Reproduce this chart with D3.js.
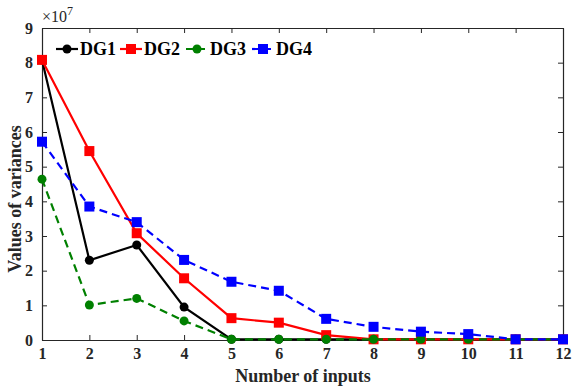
<!DOCTYPE html>
<html><head><meta charset="utf-8">
<script src="https://cdn.jsdelivr.net/npm/d3@7"></script>
<style>body{margin:0;background:#fff}svg{display:block}</style>
</head><body><svg id="c" width="573" height="388"></svg>
<script>
const inputs = [1,2,3,4,5,6,7,8,9,10,11,12];
const yTicks = [0,1,2,3,4,5,6,7,8,9];
const dg1 = [8.08, 2.30, 2.74, 0.95, 0.02, 0.02, 0.02, 0.02, 0.02, 0.02, 0.02, 0.02];
const dg2 = [8.08, 5.45, 3.08, 1.78, 0.63, 0.50, 0.14, 0.02, 0.02, 0.02, 0.02, 0.02];
const dg3 = [4.64, 1.01, 1.20, 0.55, 0.02, 0.02, 0.02, 0.02, 0.02, 0.02, 0.02, 0.02];
const dg4 = [5.72, 3.85, 3.40, 2.31, 1.68, 1.42, 0.61, 0.38, 0.24, 0.17, 0.02, 0.02];
const seriesNames = ["DG1","DG2","DG3","DG4"];

const series = [
  {name:"DG1", values:dg1, color:"#000000", dash:null, marker:"circle"},
  {name:"DG2", values:dg2, color:"#ff0000", dash:null, marker:"square"},
  {name:"DG3", values:dg3, color:"#008000", dash:"8,5", marker:"circle"},
  {name:"DG4", values:dg4, color:"#0000ff", dash:"8,5", marker:"square"}
];

const svg = d3.select("#c");
const L=42, R=563, T=28, B=340;
const x = d3.scaleLinear().domain([1,12]).range([L,R]);
const y = d3.scaleLinear().domain([0,9]).range([B,T]);
const font = "'Liberation Serif','Times New Roman',serif";

const gx = svg.append("g").attr("transform",`translate(0,${B})`)
  .call(d3.axisBottom(x).tickValues(inputs).tickFormat(d3.format("d")).tickSizeInner(-5).tickSizeOuter(0).tickPadding(8));
const gy = svg.append("g").attr("transform",`translate(${L},0)`)
  .call(d3.axisLeft(y).tickValues(yTicks).tickFormat(d3.format("d")).tickSizeInner(-5).tickSizeOuter(0).tickPadding(9));
const gt = svg.append("g").attr("transform",`translate(0,${T})`)
  .call(d3.axisTop(x).tickValues(inputs).tickFormat("").tickSizeInner(-5).tickSizeOuter(0));
const gr = svg.append("g").attr("transform",`translate(${R},0)`)
  .call(d3.axisRight(y).tickValues(yTicks).tickFormat("").tickSizeInner(-5).tickSizeOuter(0));
[gx,gy,gt,gr].forEach(g=>{
  g.selectAll("path").attr("stroke","#262626").attr("stroke-width",1.2);
  g.selectAll("line").attr("stroke","#262626").attr("stroke-width",1);
  g.selectAll("text").attr("font-family",font).attr("font-size",16).attr("font-weight","bold").attr("fill","#262626");
});

// exponent label
const ex = svg.append("text").attr("x",L).attr("y",T-6).attr("font-family",font).attr("font-size",16).attr("fill","#262626");
ex.append("tspan").text("\u00d710");
ex.append("tspan").attr("dy",-7).attr("font-size",12).text("7");

// axis labels
svg.append("text").attr("x",303).attr("y",382).attr("text-anchor","middle")
  .attr("font-family",font).attr("font-size",18).attr("font-weight","bold").attr("fill","#262626").text("Number of inputs");
svg.append("text").attr("transform",`translate(21,${(T+B)/2+15}) rotate(-90)`).attr("text-anchor","middle")
  .attr("font-family",font).attr("font-size",18).attr("font-weight","bold").attr("fill","#262626").text("Values of variances");

const line = d3.line().x((d,i)=>x(inputs[i])).y(d=>y(d));
function marker(g, type, cx, cy, color){
  if(type==="circle") g.append("circle").attr("cx",cx).attr("cy",cy).attr("r",4.5).attr("fill",color);
  else g.append("rect").attr("x",cx-5).attr("y",cy-5).attr("width",10).attr("height",10).attr("fill",color);
}
series.forEach(s=>{
  const g = svg.append("g");
  g.append("path").datum(s.values).attr("d",line).attr("fill","none").attr("stroke",s.color)
    .attr("stroke-width",2.2).attr("stroke-dasharray",s.dash);
  s.values.forEach((v,i)=>marker(g,s.marker,x(inputs[i]),y(v),s.color));
});

// legend
const legX=[56,120,186,252];
series.forEach((s,k)=>{
  const g = svg.append("g");
  const lx = legX[k], ly = 49;
  g.append("line").attr("x1",lx).attr("x2",lx+22).attr("y1",ly).attr("y2",ly).attr("stroke",s.color)
    .attr("stroke-width",2.2).attr("stroke-dasharray",s.dash?"8,3":null);
  marker(g,s.marker,lx+11,ly,s.color);
  g.append("text").attr("x",lx+24).attr("y",ly+6).attr("font-family",font).attr("font-size",18)
    .attr("font-weight","bold").attr("fill","#000").text(seriesNames[k]);
});
</script></body></html>
